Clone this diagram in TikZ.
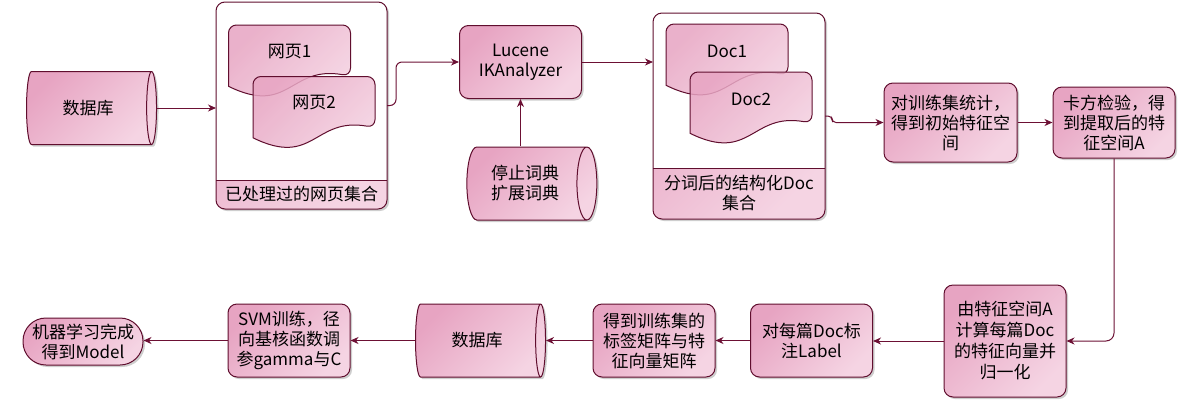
\documentclass[tikz,border=0pt]{standalone}
\usepackage{fontspec}
\setmainfont{Noto Sans CJK SC}
\usepackage{tikz}
\usetikzlibrary{positioning}
\usetikzlibrary{shapes.geometric,shadows}
\usetikzlibrary{arrows.meta}
\definecolor{edgecol}{RGB}{96,14,46}
\definecolor{linecol}{RGB}{108,16,52}
\definecolor{pinkdark}{RGB}{231,164,194}
\definecolor{pinklight}{RGB}{245,212,227}

\tikzset{
  shadowed/.style={drop shadow={shadow xshift=2pt,shadow yshift=-2pt,opacity=0.35,fill=black!55}},
  pinkfill/.style={top color=pinkdark,bottom color=pinklight,shading angle=45},
  stepbox/.style={rectangle,rounded corners=9pt,draw=edgecol,line width=1pt,pinkfill,shadowed,
    minimum width=122pt,minimum height=73pt,inner sep=2pt},
  dbase/.style={cylinder,shape aspect=0.5,draw=edgecol,line width=1pt,pinkfill,shadowed,
    minimum height=130pt,minimum width=73pt,inner sep=2pt},
  terminal/.style={rectangle,rounded corners=23pt,draw=edgecol,line width=1pt,pinkfill,shadowed,
    minimum width=120pt,minimum height=47pt,inner sep=2pt},
  container/.style={rectangle,rounded corners=9pt,draw=edgecol,line width=1pt,fill=white,shadowed,
    outer sep=0pt,inner sep=0pt,
    path picture={
      \path[sharp corners,pinkfill] ([yshift=#1]path picture bounding box.south west) rectangle (path picture bounding box.south east);
      \draw[sharp corners,edgecol,line width=1pt] ([yshift=#1]path picture bounding box.south west) -- ([yshift=#1]path picture bounding box.south east);}},
  docfill/.style={draw=edgecol,line width=1pt,pinkfill,fill opacity=0.85},
  conn/.style={draw=linecol,line width=1pt,-{Stealth[length=8pt,width=7pt,inset=2.5pt]}}
}
% wavy document sheet, centred at (#1,#2)
\newcommand{\docshape}[2]{%
  \path[docfill,shift={(#1,#2)}] (-61,24.8) [rounded corners=8pt] -- (-61,-36.5) -- (61,-36.5) -- (61,14.6)
    [sharp corners] .. controls (0,3.7) and (0,54.8) .. (-61,24.8) -- cycle;}

\begin{document}
\begin{tikzpicture}[x=1pt,y=-1pt,every node/.style={font=\fontsize{17}{20}\selectfont,align=center}]
    \useasboundingbox (0,0) rectangle (1200,400);
    % top row
    \node (db1) [dbase] at (88,108) {数据库};
    \node (c1) [container=29pt,minimum width=171pt,minimum height=207pt] at (301.5,105.5) {};
    \docshape{289.5}{61.5}
    \docshape{314}{113}
    \node (w1) at (289.5,52) {网页1};
    \node (w2) at (314,103) {网页2};
    \node (c1lab) [above=0pt of c1.south,minimum height=29pt,inner sep=0pt] {已处理过的网页集合};
    \node (lucene) [stepbox] at (520.5,62) {Lucene\\IKAnalyzer};
    \node (dict) [dbase] at (525,183.5) {停止词典\\扩展词典};
    \node (c2) [container=51pt,minimum width=172pt,minimum height=206pt] at (739,116) {};
    \docshape{727}{60.5}
    \docshape{751}{108.5}
    \node (d1) at (727,51) {Doc1};
    \node (d2) at (751,99) {Doc2};
    \node (c2lab) [above=0pt of c2.south,minimum height=51pt,inner sep=0pt] {分词后的结构化Doc\\集合};
    \node (stat) [stepbox,minimum width=133pt,minimum height=79pt] at (950.5,122.5) {对训练集统计，\\得到初始特征空\\间};
    \node (chi) [stepbox,minimum height=71pt] at (1114,122.5) {卡方检验，得\\到提取后的特\\征空间A};
    % bottom row
    \node (vec) [stepbox,minimum height=112pt,font=\fontsize{17}{21}\selectfont] at (1005,341) {由特征空间A\\计算每篇Doc\\的特征向量并\\归一化};
    \node (label) [stepbox] at (811.5,340.5) {对每篇Doc标\\注Label};
    \node (mat) [stepbox] at (654,340.5) {得到训练集的\\标签矩阵与特\\征向量矩阵};
    \node (db2) [dbase] at (477,340.5) {数据库};
    \node (svm) [stepbox] at (289,340.5) {SVM训练，径\\向基核函数调\\参gamma与C};
    \node (model) [terminal] at (83,341.5) {机器学习完成\\得到Model};
    % connectors
    \draw[conn] (db1.east) -- (db1.east -| c1.west);
    \draw[conn,rounded corners=6pt] (c1.east) -- ++(9,0) |- (lucene.west);
    \draw[conn] (lucene.south |- dict.north) -- (lucene.south);
    \draw[conn] (lucene.east) -- (lucene.east -| c2.west);
    \draw[conn,rounded corners=4pt] (c2.east) -- ++(7,0) |- (stat.west);
    \draw[conn] (stat.east) -- (chi.west);
    \draw[conn,rounded corners=8pt] (chi.south) |- (vec.east);
    \draw[conn] (vec.west) -- (vec.west -| label.east);
    \draw[conn] (label.west) -- (mat.east);
    \draw[conn] (mat.west) -- (mat.west -| db2.east);
    \draw[conn] (db2.west) -- (db2.west -| svm.east);
    \draw[conn] (svm.west) -- (svm.west -| model.east);
\end{tikzpicture}
\end{document}
